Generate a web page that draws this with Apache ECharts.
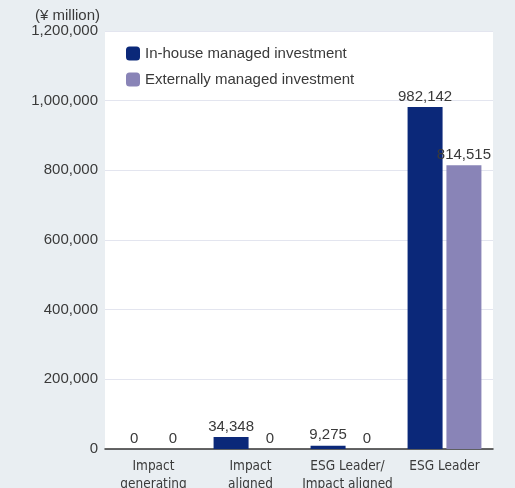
<!DOCTYPE html>
<html>
<head>
<meta charset="utf-8">
<script src="https://cdn.jsdelivr.net/npm/echarts@6/dist/echarts.min.js"></script>
<style>
html,body{margin:0;padding:0;background:#e9eef2;}
#c{width:515px;height:488px;}
</style>
</head>
<body>
<div id="c"></div>
<script>
const categories = ['Impact\ngenerating', 'Impact\naligned', 'ESG Leader/\nImpact aligned', 'ESG Leader'];
const inHouse = [0, 34348, 9275, 982142];
const external = [0, 0, 0, 814515];
const seriesNames = ['In-house managed investment', 'Externally managed investment'];
const yTicks = { min: 0, max: 1200000, interval: 200000 };
const unitLabel = '(¥ million)';

const font = '"Liberation Sans", Arial, sans-serif';
const narrow = '"Liberation Sans Narrow", "DejaVu Sans Condensed", "Liberation Sans", sans-serif';
const txt = '#3a3a3a';

const chart = echarts.init(document.getElementById('c'), null, { renderer: 'canvas' });
const labelOpt = {
  show: true, position: 'top', distance: 3, color: txt,
  fontFamily: font, fontSize: 15,
  formatter: p => p.value.toLocaleString('en-US')
};
chart.setOption({
  backgroundColor: '#e9eef2',
  animation: false,
  textStyle: { fontFamily: font },
  grid: { left: 105, right: 22, top: 31, bottom: 39, show: true, backgroundColor: '#ffffff', borderWidth: 0, containLabel: false, outerBoundsMode: 'none' },
  legend: {
    orient: 'vertical', left: 121, top: 41,
    itemWidth: 14, itemHeight: 14, itemGap: 11,
    textStyle: { color: txt, fontSize: 15, fontFamily: font },
    data: seriesNames
  },
  xAxis: {
    type: 'category', data: categories,
    axisLine: { lineStyle: { color: '#333', width: 1.5 } },
    axisTick: { show: false },
    axisLabel: { interval: 0, color: txt, fontSize: 13.5, fontFamily: narrow, lineHeight: 18, margin: 8 }
  },
  yAxis: {
    type: 'value', min: yTicks.min, max: yTicks.max, interval: yTicks.interval,
    name: unitLabel, nameLocation: 'end', nameGap: 7,
    nameTextStyle: { color: txt, fontSize: 15, fontFamily: font, align: 'right', padding: [0, 5, 0, 0] },
    axisLine: { show: false }, axisTick: { show: false },
    axisLabel: { color: txt, fontSize: 15, fontFamily: font, margin: 7, formatter: v => v.toLocaleString('en-US') },
    splitLine: { lineStyle: { color: '#e3e5ef', width: 1 } }
  },
  series: [
    { name: seriesNames[0], type: 'bar', data: inHouse, barWidth: 35, barGap: '11%', itemStyle: { color: '#0b2879' }, label: labelOpt },
    { name: seriesNames[1], type: 'bar', data: external, barWidth: 35, barGap: '11%', itemStyle: { color: '#8984b7' }, label: labelOpt }
  ]
});
</script>
</body>
</html>
